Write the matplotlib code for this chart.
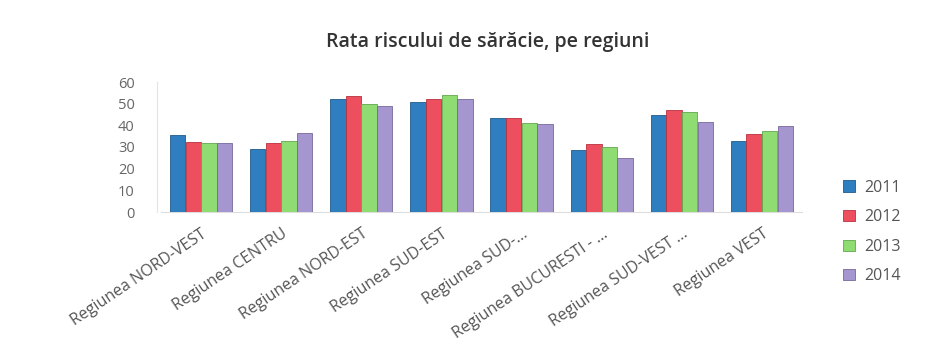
import matplotlib
matplotlib.use("Agg")
import matplotlib.pyplot as plt
import numpy as np

regions = ["Regiunea NORD-VEST", "Regiunea CENTRU", "Regiunea NORD-EST", "Regiunea SUD-EST",
           "Regiunea SUD-...", "Regiunea BUCURESTI - ...", "Regiunea SUD-VEST ...", "Regiunea VEST"]
years = ["2011", "2012", "2013", "2014"]
v2011 = [35.5, 29.0, 52.0, 51.0, 43.5, 28.5, 45.0, 33.0]
v2012 = [32.5, 32.0, 53.5, 52.0, 43.5, 31.5, 47.0, 36.0]
v2013 = [32.0, 33.0, 50.0, 54.0, 41.0, 30.0, 46.0, 37.5]
v2014 = [32.0, 36.5, 49.0, 52.0, 40.5, 25.0, 41.5, 39.5]
series = [v2011, v2012, v2013, v2014]
colors = ["#2f7fc0", "#ee4f5e", "#8fdc72", "#a696cf"]
edges = ["#1f5a8c", "#b8323e", "#62a64c", "#76689e"]

plt.rcParams['font.family'] = ['Open Sans', 'DejaVu Sans']
fig = plt.figure(figsize=(9.49, 3.48), dpi=100)
ax = fig.add_axes([161/949, 1-212/348, 641/949, 130/348])

x = np.arange(len(regions))
w = 0.195
for i, (vals, c, e) in enumerate(zip(series, colors, edges)):
    ax.bar(x + (i - 1.5) * w, vals, width=w * 0.98, color=c, edgecolor=e, linewidth=0.6,
           label=years[i], zorder=3)

ax.set_xlim(-0.5, len(regions) - 0.5)
ax.set_ylim(0, 60)
ax.set_yticks(range(0, 61, 10))
ax.tick_params(axis='y', length=0, labelsize=10.5, colors="#666666", pad=16)
ax.tick_params(axis='x', length=0, pad=10)
ax.set_xticks(x)
ax.set_xticklabels(regions, rotation=34, ha='right', rotation_mode='anchor',
                   fontsize=11.5, color="#555555")
for s in ["top", "right"]:
    ax.spines[s].set_visible(False)
ax.spines["left"].set_color("#e4e4e4")
ax.spines["bottom"].set_color("#dddddd")
ax.spines["left"].set_position(("outward", 3))

fig.text(488/949, 1-42/348, "Rata riscului de sărăcie, pe regiuni", ha='center', va='center',
         fontsize=14, fontweight='semibold', color="#333333")

leg = fig.legend(loc='center left', bbox_to_anchor=(829/949, 1-232/348), frameon=False,
                 fontsize=11.5, labelspacing=0.85, handlelength=0.7, handleheight=0.7,
                 handletextpad=0.6, labelcolor="#555555")

fig.savefig("out.png", dpi=100)
